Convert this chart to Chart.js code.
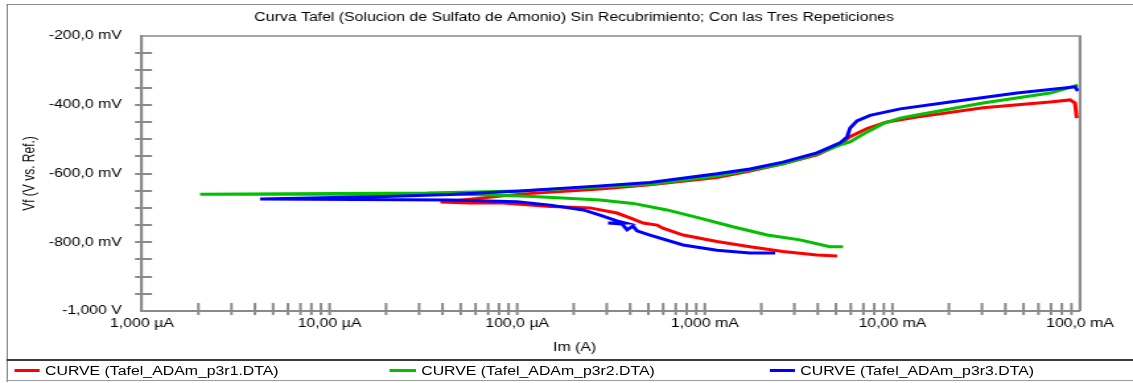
<!DOCTYPE html>
<html>
<head>
<meta charset="utf-8">
<title>Curva Tafel</title>
<script src="https://cdn.jsdelivr.net/npm/chart.js@4.4.1/dist/chart.umd.min.js"></script>
<style>
  html, body { margin: 0; padding: 0; background: #fff; overflow: hidden; }
  /* the whole figure is laid out at 858px and stretched horizontally to 1133px */
  #stage { position: absolute; left: 0; top: 0; width: 858px; height: 383px;
           transform: scaleX(1.3205); transform-origin: 0 0; }
  #frame { position: absolute; left: 5.3px; top: 4px; right: 0; height: 377px;
           border-left: 1.2px solid #8a8a8a; border-top: 1px solid #8a8a8a; }
  #chart { position: absolute; left: 0; top: 0; }
  #legend { position: absolute; left: 5.3px; right: 0; top: 359px; height: 19px;
            border-top: 2px solid #3a3a3a; border-bottom: 1px solid #9a9a9a;
            font: 12px "Liberation Sans", Arial, sans-serif; color: #000; }
  .item { position: absolute; top: 0; height: 19px; display: flex; align-items: center; white-space: nowrap; }
  .swatch { width: 19.7px; height: 3px; margin-right: 3.8px; }
</style>
</head>
<body>
<div id="stage">
  <div id="frame"></div>
  <canvas id="chart" width="858" height="358"></canvas>
  <div id="legend"></div>
</div>
<script>
// Series names and colours
const seriesNames = ['CURVE (Tafel_ADAm_p3r1.DTA)', 'CURVE (Tafel_ADAm_p3r2.DTA)', 'CURVE (Tafel_ADAm_p3r3.DTA)'];
const seriesColors = ['#ff0000', '#00c000', '#0000ff'];

// Scan p3r1: current Im (A) and potential Vf (V), in acquisition order
const currentR1 = [5.07e-3, 3.96e-3, 2.61e-3, 1.74e-3, 1.16e-3, 7.66e-4, 5.98e-4, 5.56e-4, 4.69e-4, 3.99e-4,
                   3.40e-4, 2.44e-4, 1.50e-4, 8.39e-5, 5.6e-5, 3.9e-5, 5.6e-5, 1.04e-4, 2.76e-4, 5.1e-4,
                   1.16e-3, 1.74e-3, 2.61e-3, 3.96e-3, 5.26e-3, 5.94e-3, 7.33e-3, 9.35e-3, 1.35e-2, 3.04e-2,
                   6.92e-2, 8.85e-2, 9.4e-2, 9.6e-2];
const potentialR1 = [-0.840, -0.837, -0.827, -0.813, -0.798, -0.779, -0.759, -0.750, -0.744, -0.729,
                     -0.715, -0.700, -0.696, -0.686, -0.686, -0.683, -0.675, -0.660, -0.645, -0.633,
                     -0.612, -0.593, -0.572, -0.546, -0.514, -0.493, -0.469, -0.450, -0.436, -0.409,
                     -0.392, -0.386, -0.395, -0.439];

// Scan p3r2
const currentR2 = [5.46e-3, 4.64e-3, 3.21e-3, 2.15e-3, 1.41e-3, 9.4e-4, 6.28e-4, 4.14e-4, 2.76e-4, 1.84e-4,
                   1.21e-4, 8.1e-5, 4.4e-5, 6.95e-6, 2.04e-6, 3.3e-5, 1.04e-4, 2.76e-4, 5.1e-4, 1.16e-3,
                   1.74e-3, 2.61e-3, 3.96e-3, 5.26e-3, 5.94e-3, 7.33e-3, 8.9e-3, 1.10e-2, 1.35e-2, 3.04e-2,
                   6.92e-2, 9.75e-2];
const potentialR2 = [-0.813, -0.813, -0.793, -0.779, -0.755, -0.730, -0.706, -0.687, -0.677, -0.672,
                     -0.667, -0.663, -0.660, -0.660, -0.660, -0.657, -0.651, -0.639, -0.631, -0.607,
                     -0.590, -0.572, -0.543, -0.517, -0.508, -0.479, -0.455, -0.439, -0.430, -0.395,
                     -0.366, -0.343];

// Scan p3r3
const currentR3 = [2.37e-3, 1.74e-3, 1.16e-3, 7.66e-4, 5.1e-4, 4.35e-4, 4.14e-4, 3.85e-4, 3.62e-4, 3.05e-4,
                   3.76e-4, 3.40e-4, 2.76e-4, 2.25e-4, 1.50e-4, 9.98e-5, 4.4e-5, 4.26e-6, 1.97e-5, 4.4e-5,
                   1.04e-4, 2.76e-4, 5.1e-4, 1.16e-3, 1.74e-3, 2.61e-3, 3.96e-3, 5.26e-3, 5.73e-3, 5.94e-3,
                   6.47e-3, 7.6e-3, 1.10e-2, 2.03e-2, 4.61e-2, 9.4e-2, 9.75e-2];
const potentialR3 = [-0.831, -0.831, -0.823, -0.808, -0.779, -0.767, -0.753, -0.764, -0.747, -0.744,
                     -0.744, -0.738, -0.721, -0.706, -0.692, -0.682, -0.677, -0.674, -0.667, -0.661,
                     -0.651, -0.636, -0.626, -0.601, -0.587, -0.567, -0.540, -0.511, -0.494, -0.468,
                     -0.447, -0.431, -0.412, -0.392, -0.366, -0.348, -0.360];

// Axis ticks and their labels
const xTickValues = [1e-6, 1e-5, 1e-4, 1e-3, 1e-2, 1e-1];
const xTickLabels = ['1,000 \u00b5A', '10,00 \u00b5A', '100,0 \u00b5A', '1,000 mA', '10,00 mA', '100,0 mA'];
const yTickValues = [-1.0, -0.8, -0.6, -0.4, -0.2];
const yTickLabels = ['-1,000 V', '-800,0 mV', '-600,0 mV', '-400,0 mV', '-200,0 mV'];

const chartTitle = 'Curva Tafel (Solucion de Sulfato de Amonio) Sin Recubrimiento; Con las Tres Repeticiones';
const xTitle = 'Im (A)';
const yTitle = 'Vf (V vs. Ref.)';

const AXIS_GRAY = '#8a8a8a';
const FONT = '"Liberation Sans", Arial, sans-serif';

Chart.defaults.font.family = FONT;
Chart.defaults.font.size = 12;
Chart.defaults.color = '#000';

function toPoints(xs, ys) { return xs.map((x, i) => ({ x: x, y: ys[i] })); }

const seriesData = [toPoints(currentR1, potentialR1), toPoints(currentR2, potentialR2), toPoints(currentR3, potentialR3)];
const drawOrder = [2, 1, 0]; // p3r3 on top, p3r1 underneath

// Plot frame (top/right edges) and the cross-shaped tick marks on both axes
const frameTicks = {
  id: 'frameTicks',
  afterDatasetsDraw(chart) {
    const { ctx, chartArea: a, scales: { x, y } } = chart;
    ctx.save();
    ctx.strokeStyle = AXIS_GRAY;
    // top edge
    ctx.lineWidth = 1.5;
    ctx.beginPath(); ctx.moveTo(a.left, a.top); ctx.lineTo(a.right + 1, a.top); ctx.stroke();
    // right edge
    ctx.lineWidth = 2.2;
    ctx.beginPath(); ctx.moveTo(a.right, a.top); ctx.lineTo(a.right, a.bottom); ctx.stroke();
    // y ticks every 50 mV
    ctx.lineWidth = 2;
    for (let k = 1; k < 16; k++) {
      const v = y.min + k * 0.05;
      const py = Math.round(y.getPixelForValue(v));
      ctx.beginPath(); ctx.moveTo(a.left - 5.3, py); ctx.lineTo(a.left + 7.6, py); ctx.stroke();
    }
    // x ticks at 1..9 per decade
    for (let e = -6; e <= -2; e++) {
      for (let m = 1; m <= 9; m++) {
        const v = m * Math.pow(10, e);
        if (v <= x.min * 1.0001) continue;
        const px = x.getPixelForValue(v);
        ctx.beginPath(); ctx.moveTo(px, a.bottom - 8); ctx.lineTo(px, a.bottom + 4); ctx.stroke();
      }
    }
    ctx.restore();
  },
  afterDraw(chart) {
    const { ctx } = chart;
    ctx.save();
    ctx.fillStyle = '#000';
    ctx.font = '12px ' + FONT;
    ctx.textAlign = 'center';
    ctx.textBaseline = 'middle';
    ctx.fillText(chartTitle, 434.8, 18);
    ctx.fillText(xTitle, 435.2, 348);
    ctx.restore();
  }
};

new Chart(document.getElementById('chart'), {
  type: 'scatter',
  data: {
    datasets: seriesData.map((pts, i) => ({
      label: seriesNames[i],
      data: pts,
      showLine: true,
      borderColor: seriesColors[i],
      backgroundColor: seriesColors[i],
      borderWidth: 3,
      pointRadius: 0,
      pointHoverRadius: 0,
      tension: 0,
      order: drawOrder[i]
    }))
  },
  options: {
    responsive: false,
    animation: false,
    events: [],
    layout: { padding: { top: 36, right: 40.1, bottom: 17, left: 0 } },
    plugins: { legend: { display: false }, title: { display: false }, tooltip: { enabled: false } },
    scales: {
      x: {
        type: 'logarithmic',
        min: 1e-6,
        max: 1e-1,
        afterBuildTicks: (s) => { s.ticks = xTickValues.map(v => ({ value: v })); },
        afterFit: (s) => { s.height = 30; },
        grid: { display: false, drawTicks: false },
        border: { display: true, color: AXIS_GRAY, width: 2 },
        ticks: {
          autoSkip: false, maxRotation: 0, padding: 5,
          callback: (v, i) => xTickLabels[i]
        },
        title: { display: false }
      },
      y: {
        type: 'linear',
        min: -1.0,
        max: -0.2,
        afterBuildTicks: (s) => { s.ticks = yTickValues.map(v => ({ value: v })); },
        afterFit: (s) => { s.width = 107.5; },
        grid: { display: false, drawTicks: false },
        border: { display: true, color: AXIS_GRAY, width: 2.2 },
        ticks: {
          autoSkip: false, padding: 15.2,
          callback: (v, i) => yTickLabels[i]
        },
        title: { display: true, text: yTitle, padding: { top: 15.5, bottom: 0 }, font: { size: 12 } }
      }
    }
  },
  plugins: [frameTicks]
});

// Legend row along the bottom
const legend = document.getElementById('legend');
const legendLeft = [5.3, 290.2, 577.3];
seriesNames.forEach((name, i) => {
  const item = document.createElement('div');
  item.className = 'item';
  item.style.left = legendLeft[i] + 'px';
  const sw = document.createElement('span');
  sw.className = 'swatch';
  sw.style.background = seriesColors[i];
  const tx = document.createElement('span');
  tx.textContent = name;
  item.appendChild(sw);
  item.appendChild(tx);
  legend.appendChild(item);
});
</script>
</body>
</html>
